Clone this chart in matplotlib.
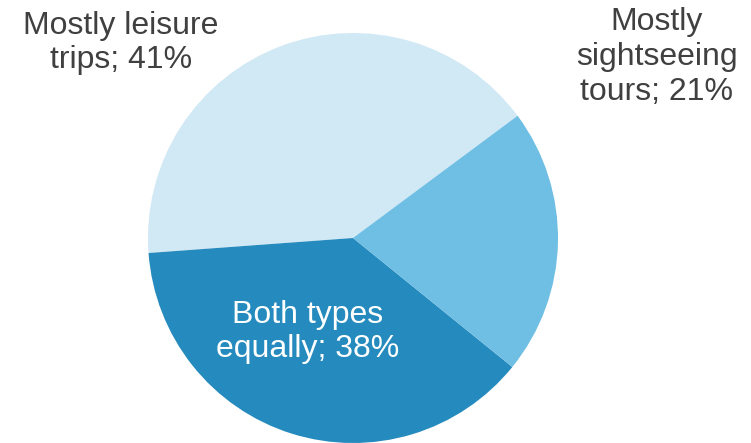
import matplotlib.pyplot as plt

labels = ["Mostly leisure\ntrips; 41%", "Both types\nequally; 38%", "Mostly\nsightseeing\ntours; 21%"]
shares = [41, 38, 21]
colors = ["#D1E8F5", "#258ABD", "#6FBEE4"]

W, H = 751, 443
cx, cy, r = 353, 238, 205

def to_data(px, py):
    return (px - cx) / r, (cy - py) / r

fig = plt.figure(figsize=(W / 100, H / 100), dpi=100)
ax = fig.add_axes([0, 0, 1, 1])
ax.pie(shares, colors=colors, startangle=36.6, counterclock=True,
       radius=1, center=(0, 0), wedgeprops=dict(linewidth=0))
ax.set_xlim(-cx / r, (W - cx) / r)
ax.set_ylim((cy - H) / r, cy / r)
ax.set_aspect("auto")
ax.axis("off")

plt.rcParams['font.family'] = ['Liberation Sans', 'DejaVu Sans']
fs = 23
ls = 1.2
x, y = to_data(121, 43)
ax.text(x, y, labels[0], ha="center", va="center", fontsize=fs, color="#404040", linespacing=ls)
x, y = to_data(657, 57)
ax.text(x, y, labels[2], ha="center", va="center", fontsize=fs, color="#404040", linespacing=ls)
x, y = to_data(308, 332)
ax.text(x, y, labels[1], ha="center", va="center", fontsize=fs, color="white", linespacing=ls)

fig.savefig("out.png", dpi=100)
